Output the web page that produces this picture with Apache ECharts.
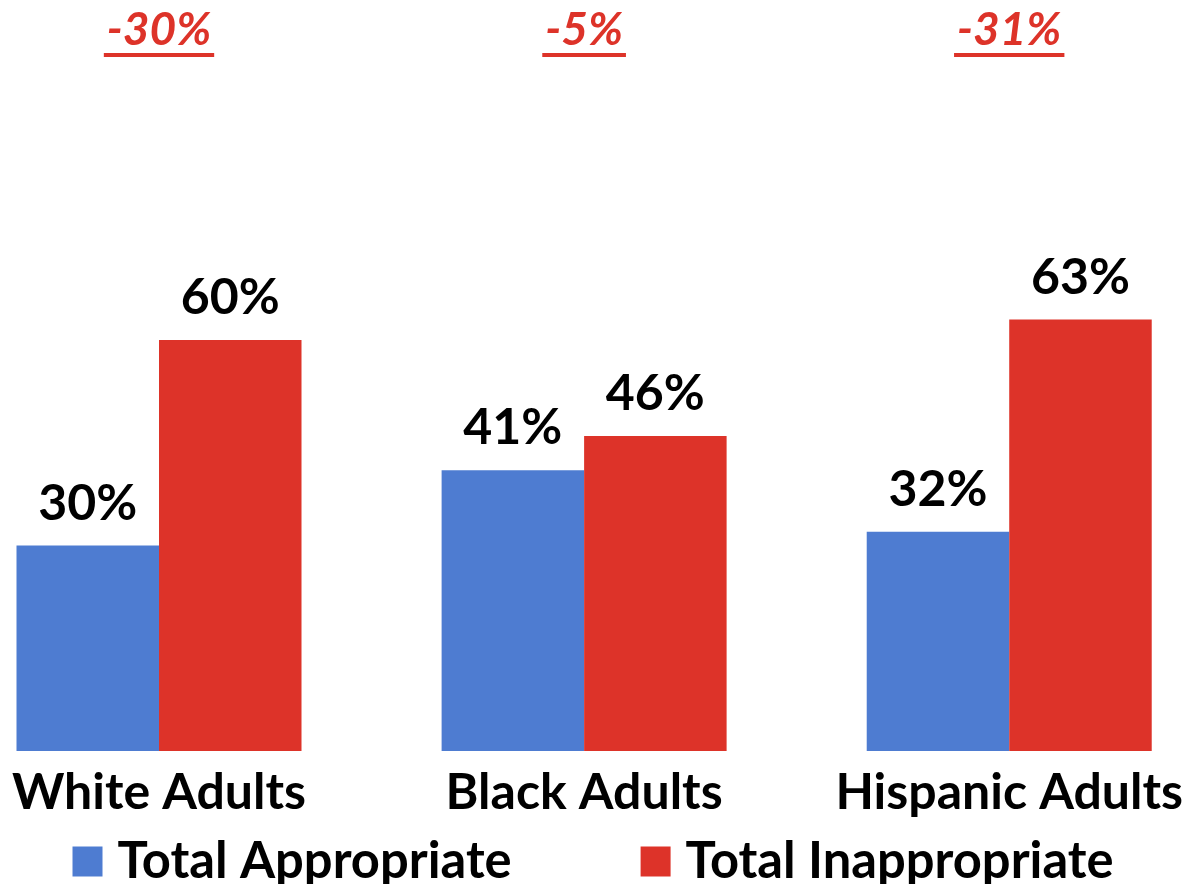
<!DOCTYPE html>
<html><head><meta charset="utf-8">
<script src="https://cdn.jsdelivr.net/npm/echarts@6/dist/echarts.min.js"></script>
<style>html,body{margin:0;padding:0;background:#fff}#c{width:1186px;height:884px}</style>
</head><body><div id="c"></div>
<script>
const categories = ['White Adults', 'Black Adults', 'Hispanic Adults'];
const appropriate = [30, 41, 32];
const inappropriate = [60, 46, 63];
const seriesNames = ['Total Appropriate', 'Total Inappropriate'];

const FONT = 'Lato';
const BLUE = '#4E7CD1';
const RED = '#DD3329';

const chart = echarts.init(document.getElementById('c'));
const labelStyle = {
  show: true, position: 'top', formatter: '{c}%', distance: 17,
  fontFamily: FONT, fontWeight: 'bold', fontSize: 50, lineHeight: 50, color: '#000'
};
chart.setOption({
  animation: false,
  backgroundColor: '#fff',
  legend: {
    data: seriesNames, left: 'center', top: 836, padding: 0,
    itemWidth: 30, itemHeight: 30, itemGap: 129, icon: 'rect',
    textStyle: { fontFamily: FONT, fontWeight: 'bold', fontSize: 50.7, lineHeight: 46, color: '#000', padding: [0, 0, 0, 10] }
  },
  grid: { left: 159, right: 173, top: 66, bottom: 133 },
  xAxis: {
    type: 'category', data: categories, boundaryGap: false,
    axisLine: { show: false }, axisTick: { show: false }, splitLine: { show: false },
    axisLabel: { interval: 0, margin: 17, fontFamily: FONT, fontWeight: 'bold', fontSize: 50, lineHeight: 50, color: '#000' }
  },
  yAxis: { type: 'value', min: 0, max: 100, show: false, splitLine: { show: false } },
  series: [
    { name: seriesNames[0], type: 'bar', clip: false, data: appropriate, barWidth: 142.5, barGap: '0%', itemStyle: { color: BLUE }, label: labelStyle },
    { name: seriesNames[1], type: 'bar', clip: false, data: inappropriate, barWidth: 142.5, barGap: '0%', itemStyle: { color: RED }, label: labelStyle }
  ]
});

// Difference labels above each group, computed from the data
const diffs = appropriate.map((a, i) => a - inappropriate[i]);
const cv = document.createElement('canvas').getContext('2d');
const TOPFONT = 'italic bold 46px ' + FONT;
cv.font = TOPFONT;
const g = [];
categories.forEach((c, i) => {
  const x = chart.convertToPixel({ xAxisIndex: 0 }, c);
  const txt = diffs[i] + '%';
  const w = cv.measureText(txt).width;
  g.push({ type: 'text', x: x, y: 30, style: { text: txt, font: TOPFONT, fill: RED, align: 'center', verticalAlign: 'middle' } });
  g.push({ type: 'rect', shape: { x: x - w / 2 - 3, y: 53, width: w + 6, height: 4 }, style: { fill: RED } });
});
chart.setOption({ graphic: g });
</script>
</body></html>
